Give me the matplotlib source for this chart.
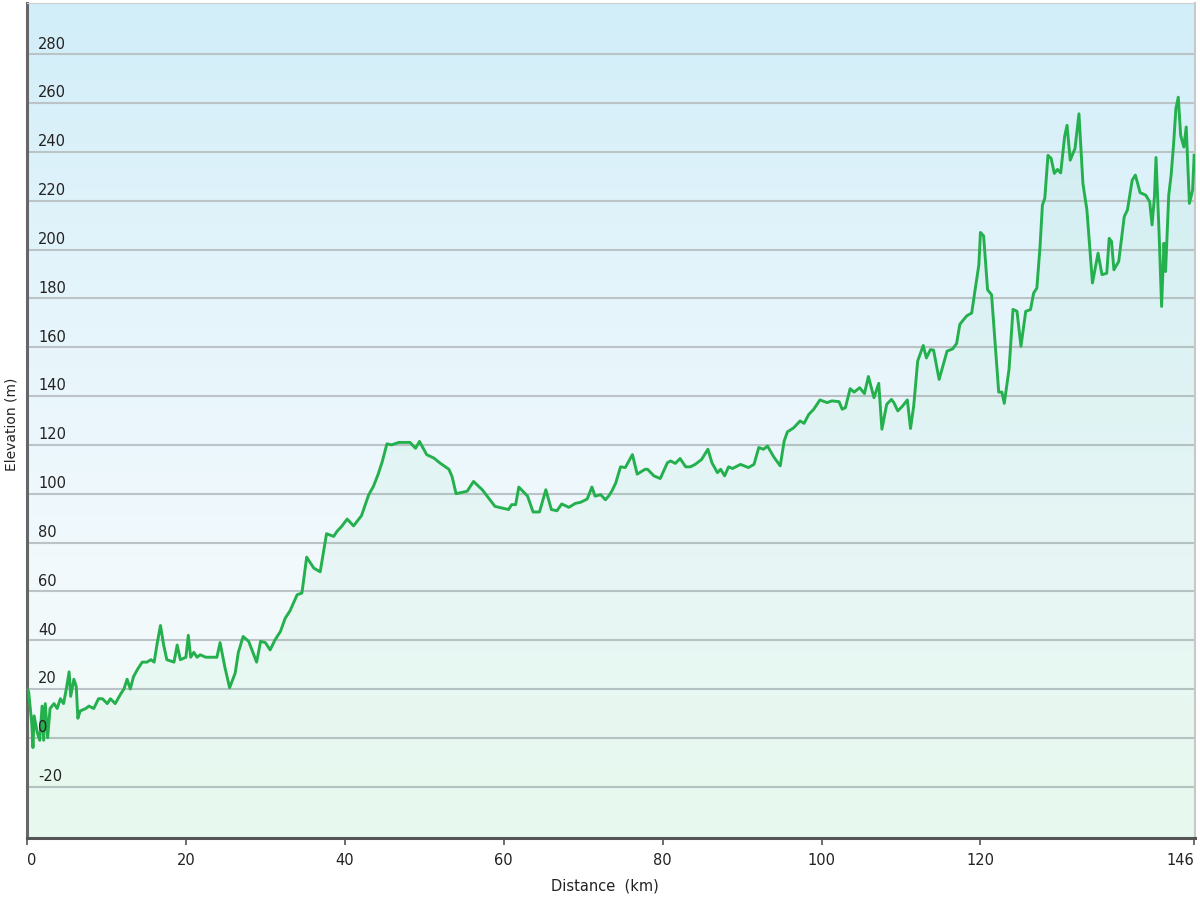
import numpy as np
import matplotlib.pyplot as plt
import matplotlib.transforms as mtransforms
from matplotlib.colors import LinearSegmentedColormap

# elevation profile (km, m)
dist_km = [
    0.0, 0.2, 0.6, 0.75, 0.9, 1.3, 1.6, 1.9, 2.1, 2.3, 2.6, 2.9, 3.4, 3.8, 4.2, 4.6,
    5.0, 5.3, 5.5, 5.9, 6.2, 6.4, 6.7, 7.4, 7.8, 8.4, 9.0, 9.5, 10.1, 10.5, 11.1,
    11.8, 12.2, 12.6, 13.0, 13.4, 13.9, 14.5, 15.1, 15.6, 16.0, 16.4, 16.8, 17.2,
    17.6, 18.5, 18.9, 19.3, 20.0, 20.3, 20.6, 21.0, 21.4, 21.8, 22.5, 22.9, 23.5,
    23.9, 24.3, 24.9, 25.5, 26.2, 26.6, 27.2, 27.9, 28.9, 29.4, 30.0, 30.6, 31.2,
    31.9, 32.5, 33.1, 34.0, 34.6, 35.2, 36.1, 36.9, 37.7, 38.6, 39.0, 39.6, 40.3,
    41.1, 42.1, 43.0, 43.6, 44.2, 44.7, 45.3, 45.9, 46.8, 48.2, 48.9, 49.4, 50.3,
    51.2, 52.0, 53.1, 53.5, 54.0, 55.4, 56.2, 57.3, 58.9, 60.6, 61.0, 61.5, 61.9,
    63.0, 63.7, 64.5, 65.3, 66.0, 66.7, 67.3, 68.2, 69.0, 69.7, 70.5, 71.1, 71.5,
    72.2, 72.8, 73.2, 73.6, 74.1, 74.7, 75.3, 76.2, 76.8, 77.8, 78.1, 78.9, 79.7,
    80.6, 81.0, 81.6, 82.2, 82.9, 83.5, 84.1, 84.9, 85.7, 86.2, 86.9, 87.3, 87.8,
    88.3, 88.8, 89.2, 89.8, 90.8, 91.5, 92.1, 92.7, 93.2, 94.0, 94.8, 95.3, 95.7,
    96.5, 97.3, 97.8, 98.4, 99.0, 99.8, 100.7, 101.3, 102.2, 102.6, 103.0, 103.6,
    104.1, 104.8, 105.4, 105.9, 106.6, 107.2, 107.6, 108.2, 108.8, 109.1, 109.6,
    110.2, 110.8, 111.2, 111.6, 112.1, 112.8, 113.2, 113.7, 114.1, 114.8, 115.8,
    116.5, 117.0, 117.4, 117.8, 118.3, 118.9, 119.3, 119.8, 120.0, 120.4, 120.9,
    121.4, 122.3, 122.7, 123.0, 123.6, 124.1, 124.6, 125.1, 125.7, 126.3, 126.7,
    127.1, 127.5, 127.8, 128.1, 128.5, 128.9, 129.3, 129.7, 130.1, 130.6, 130.9,
    131.3, 131.9, 132.4, 132.9, 133.4, 134.1, 134.8, 135.3, 135.9, 136.2, 136.5,
    136.8, 137.4, 138.1, 138.5, 139.1, 139.5, 140.1, 140.8, 141.3, 141.6, 141.9,
    142.1, 142.5, 142.8, 143.1, 143.3, 143.7, 144.0, 144.3, 144.6, 144.9, 145.2,
    145.6, 145.9, 146.3, 146.7, 146.9,
]
elev_m = [
    20, 19, 6, -4, 9, 2, -1, 13, -1, 14, 0, 12, 14, 12, 16, 14,
    21, 27, 17, 24, 21, 8, 11, 12, 13, 12, 16, 16, 14, 16, 14,
    18, 20, 24, 20, 25, 28, 31, 31, 32, 31, 39, 46, 38,
    32, 31, 38, 32, 33, 42, 33, 35, 33, 34, 33, 33, 33,
    33, 39, 29, 20.5, 26.5, 35, 41.5, 39.5, 31, 39.5, 39, 36, 40,
    43.6, 49, 52, 58.6, 59.3, 74, 69.5, 68, 83.6, 82.5, 84.5, 86.6, 89.6,
    86.8, 91, 99.5, 103, 108, 113, 120.4, 120, 121, 121, 118.6, 121.4, 116,
    114.6, 112.5, 110, 107, 100, 101, 105, 101.6, 94.8, 93.5, 95.5, 95.5, 102.7,
    99, 92.5, 92.5, 101.6, 93.5, 93, 95.8, 94.4, 96, 96.5, 97.8, 102.7, 99,
    99.6, 97.5, 99, 101, 104.4, 111, 110.7, 116, 108, 110, 110, 107.3, 106.2,
    112.7, 113.4, 112.4, 114.4, 111, 111, 112, 114, 118.2, 112.7, 108.6, 110, 107.3,
    111, 110.3, 111, 112, 110.7, 112, 118.9, 118.2, 119.5, 115, 111.4, 121.6, 125.3,
    127, 129.8, 128.8, 132.5, 134.5, 138.4, 137.3, 138, 137.7, 134.6, 135.2, 143,
    141.6, 143.4, 141, 148, 139.3, 145.2, 126.4, 136.6, 138.6, 137.3, 133.9,
    135.9, 138.4, 126.7, 135.9, 154.3, 160.7, 155.6, 159, 158.8, 146.8, 158.4,
    159.3, 161.5, 169.3, 171, 172.9, 174, 182.9, 193.7, 207, 205.6, 183.5,
    181.5, 141.6, 141.6, 137, 151, 175.5, 174.7, 160.4, 174.7, 175.4, 182.2,
    184.2, 201.2, 218.2, 221, 238.6, 237.3, 231.2, 232.8, 231.4, 246.4, 250.9,
    236.6, 241.4, 255.6, 227, 216.2, 186.3, 198.5, 189.7, 190.3, 204.6, 203.3,
    191.7, 195.1, 213.5, 216.2, 228.4, 230.5, 223.3, 222.3, 219.6, 210.1, 221.6,
    237.7, 205.3, 176.7, 202.6, 191, 222.3, 230.5, 242.7, 257.7, 262.4, 246.8,
    242, 250.2, 218.9, 224.3, 238.6,
]

y_ticks = list(range(-20, 281, 20))
x_ticks = [0, 20, 40, 60, 80, 100, 120, 146.9]
x_tick_labels = ['0', '20', '40', '60', '80', '100', '120', '146']

fig = plt.figure(figsize=(12, 9), dpi=100)
ax = fig.add_axes([0.0225, 0.069, 0.9733, 0.9277])
x_min, x_max = 0, 147.0
y_min, y_max = -41, 301
ax.set_xlim(x_min, x_max)
ax.set_ylim(y_min, y_max)

# background gradient (light blue at top -> very pale green at bottom)
bg_cmap = LinearSegmentedColormap.from_list('bg', ['#f1fcf5', '#f1f9fd', '#e4f4fb', '#d1eef9'])
grad = np.linspace(0, 1, 256).reshape(-1, 1)
ax.imshow(grad, cmap=bg_cmap, origin='lower', aspect='auto',
          extent=[x_min, x_max, y_min, y_max], zorder=0)

for v in y_ticks:
    ax.axhline(v, color='#bcc3c6', linewidth=1.5, zorder=1)

ax.fill_between(dist_km, elev_m, y_min, color='#3cc878', alpha=0.055, linewidth=0, zorder=2)
ax.plot(dist_km, elev_m, color='#25b04e', linewidth=2.1, zorder=3)

# y labels sit inside the plot, just above each gridline
trans = mtransforms.blended_transform_factory(ax.transAxes, ax.transData)
for v in y_ticks:
    ax.text(0.0095, v + 2.3, str(v), transform=trans, ha='left', va='baseline',
            fontsize=10.5, color='#222222', zorder=4)
ax.set_yticks([])

ax.set_xticks(x_ticks)
ax.set_xticklabels(x_tick_labels, fontsize=10.5, color='#222222')
labels = ax.get_xticklabels()
labels[0].set_horizontalalignment('left')
labels[-1].set_horizontalalignment('right')
ax.tick_params(axis='x', length=5, width=1.2, color='#555555', pad=6)

ax.spines['left'].set_color('#666666')
ax.spines['left'].set_linewidth(2.2)
ax.spines['bottom'].set_color('#555555')
ax.spines['bottom'].set_linewidth(2.2)
ax.spines['top'].set_color('#cfcfcf')
ax.spines['right'].set_color('#c8c8c8')
ax.spines['right'].set_linewidth(1.5)

fig.text(0.504, 0.016, 'Distance  (km)', ha='center', va='center', fontsize=10.5, color='#222222')
fig.text(0.010, 0.528, 'Elevation (m)', ha='center', va='center', rotation=90,
         fontsize=10, color='#222222')

fig.savefig('out.png', dpi=100)
